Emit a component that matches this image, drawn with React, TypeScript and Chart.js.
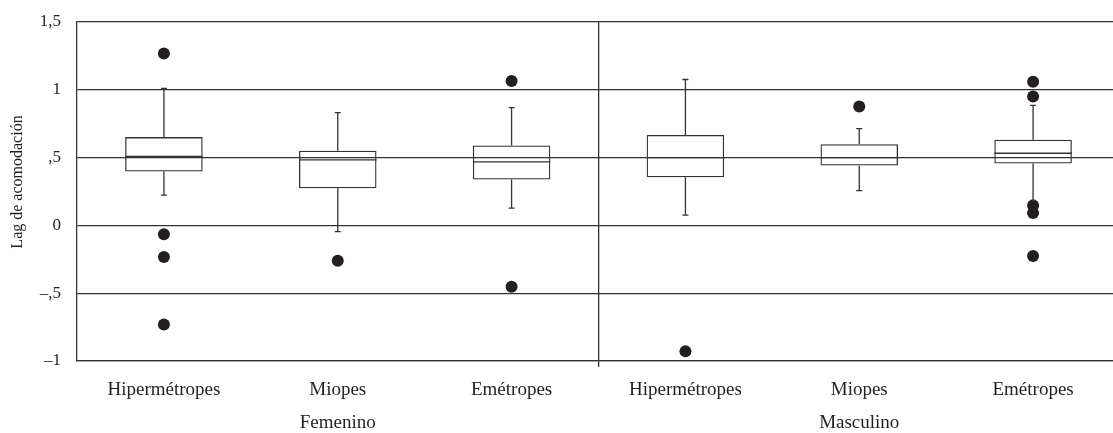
import React, { useEffect, useRef } from 'react';
import { Chart, registerables } from 'chart.js';

Chart.register(...registerables);

const categories = ['Hipermétropes', 'Miopes', 'Emétropes', 'Hipermétropes', 'Miopes', 'Emétropes'];
const groups = ['Femenino', 'Masculino'];
const whiskerLow = [0.223, -0.046, 0.127, 0.076, 0.257, 0.184];
const q1 = [0.398, 0.274, 0.338, 0.355, 0.441, 0.456];
const median = [0.509, 0.483, 0.468, 0.5, 0.5, 0.532];
const q3 = [0.651, 0.551, 0.59, 0.667, 0.598, 0.632];
const whiskerHigh = [1.01, 0.831, 0.868, 1.076, 0.713, 0.885];
const outliers = [
  [1.268, -0.066, -0.233, -0.73],
  [-0.26],
  [1.065, -0.453],
  [-0.929],
  [0.877],
  [1.06, 0.95, 0.147, 0.092, -0.226],
];
const yTickLabels = ['–1', '–,5', '0', ',5', '1', '1,5'];
const yTitle = 'Lag de acomodación';

const FONT = "'Liberation Serif', 'Times New Roman', serif";
const INK = '#231f20';
const LINE = '#333333';

const boxPlugin = {
  id: 'boxWhiskers',
  afterDatasetsDraw(chart: any) {
    const xs = chart.scales.x;
    const ys = chart.scales.y;
    const meta = chart.getDatasetMeta(0);
    const ctx = chart.ctx;
    ctx.save();
    ctx.strokeStyle = LINE;
    ctx.lineWidth = 1.3;
    for (let i = 0; i < categories.length; i++) {
      const cx = xs.getPixelForValue(i);
      const bar = meta.data[i];
      const half = bar ? bar.width / 2 : 38;
      const yMed = ys.getPixelForValue(median[i]);
      const yQ1 = ys.getPixelForValue(q1[i]);
      const yQ3 = ys.getPixelForValue(q3[i]);
      const yLo = ys.getPixelForValue(whiskerLow[i]);
      const yHi = ys.getPixelForValue(whiskerHigh[i]);
      ctx.beginPath();
      ctx.moveTo(cx - half, yMed);
      ctx.lineTo(cx + half, yMed);
      ctx.moveTo(cx, yQ3);
      ctx.lineTo(cx, yHi);
      ctx.moveTo(cx - 3, yHi);
      ctx.lineTo(cx + 3, yHi);
      ctx.moveTo(cx, yQ1);
      ctx.lineTo(cx, yLo);
      ctx.moveTo(cx - 3, yLo);
      ctx.lineTo(cx + 3, yLo);
      ctx.stroke();
    }
    ctx.restore();
  },
  afterDraw(chart: any) {
    const ctx = chart.ctx;
    ctx.save();
    ctx.translate(18, 182);
    ctx.rotate(-Math.PI / 2);
    ctx.font = `16px ${FONT}`;
    ctx.fillStyle = INK;
    ctx.textAlign = 'center';
    ctx.textBaseline = 'middle';
    ctx.fillText(yTitle, 0, 0);
    ctx.restore();
  },
};

export default function App() {
  const ref = useRef<HTMLCanvasElement | null>(null);

  useEffect(() => {
    if (!ref.current) return;
    const maxOut = Math.max(...outliers.map((o) => o.length));
    const outlierSets = [] as any[];
    for (let k = 0; k < maxOut; k++) {
      outlierSets.push({
        type: 'line',
        data: outliers.map((o) => (o[k] === undefined ? null : o[k])),
        showLine: false,
        pointRadius: 6,
        pointHoverRadius: 6,
        pointBackgroundColor: INK,
        pointBorderColor: INK,
        pointBorderWidth: 0,
        xAxisID: 'x',
        yAxisID: 'y',
      });
    }
    const gridColor = (c: any) => (c.index === 3 ? LINE : 'rgba(0,0,0,0)');
    const chart = new Chart(ref.current, {
      type: 'bar',
      data: {
        labels: categories,
        datasets: [
          {
            type: 'bar',
            data: categories.map((_, i) => [q1[i], q3[i]]),
            backgroundColor: 'rgba(0,0,0,0)',
            borderColor: LINE,
            borderWidth: 1.3,
            borderSkipped: false,
            barPercentage: 0.446,
            categoryPercentage: 1,
            xAxisID: 'x',
            yAxisID: 'y',
          } as any,
          ...outlierSets,
        ],
      },
      options: {
        animation: false,
        responsive: true,
        maintainAspectRatio: false,
        events: [],
        layout: { padding: { top: 22, left: 0, right: 0, bottom: 0 } },
        plugins: { legend: { display: false }, tooltip: { enabled: false } },
        scales: {
          x: {
            type: 'category',
            position: 'bottom',
            offset: true,
            weight: 0,
            grid: {
              offset: true,
              display: true,
              drawOnChartArea: true,
              drawTicks: true,
              tickLength: 6,
              color: gridColor,
              tickColor: gridColor,
              lineWidth: 1.3,
            },
            border: { display: true, color: LINE, width: 1.3 },
            ticks: {
              font: { family: FONT, size: 19 },
              color: INK,
              padding: 12,
              maxRotation: 0,
              autoSkip: false,
            },
            afterFit: (s: any) => {
              s.height = 44;
            },
          },
          x2: {
            type: 'category',
            labels: groups,
            position: 'bottom',
            offset: true,
            weight: 1,
            grid: { display: false, drawTicks: false },
            border: { display: false },
            ticks: {
              font: { family: FONT, size: 19 },
              color: INK,
              padding: 7,
              maxRotation: 0,
              autoSkip: false,
            },
            afterFit: (s: any) => {
              s.height = 28;
            },
          },
          y: {
            type: 'linear',
            min: -1,
            max: 1.5,
            ticks: {
              stepSize: 0.5,
              font: { family: FONT, size: 17 },
              color: INK,
              padding: 16,
              callback: (_v: any, i: number) => yTickLabels[i],
            },
            grid: { color: LINE, lineWidth: 1.3, drawTicks: false },
            border: { display: true, color: LINE, width: 1.3 },
            afterFit: (s: any) => {
              s.width = 77;
              s.paddingTop = 0;
              s.paddingBottom = 0;
            },
          },
        },
      } as any,
      plugins: [boxPlugin],
    });
    return () => chart.destroy();
  }, []);

  return (
    <div
      style={{
        position: 'fixed',
        left: 0,
        top: 0,
        width: 1113,
        height: 433,
        overflow: 'hidden',
        background: '#fff',
      }}
    >
      <div style={{ position: 'relative', width: 1126, height: 433 }}>
        <canvas ref={ref} />
      </div>
    </div>
  );
}
